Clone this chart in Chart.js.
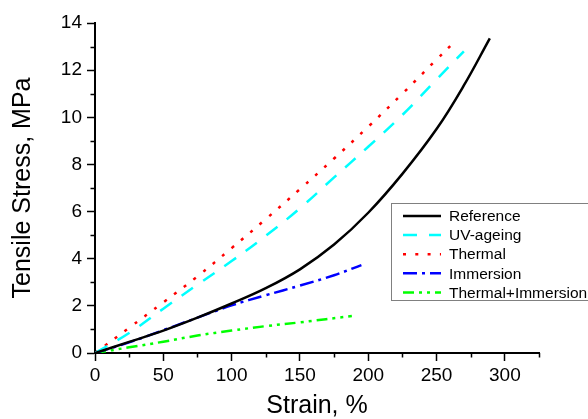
<!DOCTYPE html>
<html>
<head>
<meta charset="utf-8">
<script src="https://cdn.jsdelivr.net/npm/chart.js@4"></script>
<style>
  html, body { margin: 0; padding: 0; background: #fff; }
  #wrap { width: 588px; height: 419px; }
</style>
</head>
<body>
<div id="wrap"><canvas id="stressChart" width="588" height="419"></canvas></div>
<script>
// strain (%) and tensile stress (MPa)
const refStrain = [0, 25, 50, 75, 100, 125, 150, 175, 200, 225, 250, 270, 289];
const refStress = [0, 0.47, 0.95, 1.5, 2.1, 2.75, 3.55, 4.6, 5.95, 7.6, 9.5, 11.35, 13.35];

const uvStrain = [0, 25, 50, 75, 100, 125, 150, 175, 200, 225, 250, 270];
const uvStress = [0, 0.85, 1.88, 2.9, 3.9, 4.97, 6.14, 7.45, 8.75, 10.1, 11.6, 12.8];

const thermalStrain = [0, 25, 50, 75, 100, 125, 150, 175, 200, 225, 250, 260];
const thermalStress = [0, 1.07, 2.15, 3.25, 4.45, 5.68, 6.95, 8.25, 9.6, 11.0, 12.45, 13.02];

const immStrain = [0, 25, 50, 75, 100, 125, 150, 175, 195];
const immStress = [0, 0.45, 0.97, 1.5, 2.02, 2.45, 2.86, 3.3, 3.73];

const thImmStrain = [0, 25, 50, 75, 100, 125, 150, 188];
const thImmStress = [0, 0.24, 0.48, 0.74, 0.95, 1.14, 1.3, 1.57];

const seriesLabels = ['Reference', 'UV-ageing', 'Thermal', 'Immersion', 'Thermal+Immersion'];

const xTickValues = [0, 50, 100, 150, 200, 250, 300];
const yTickValues = [0, 2, 4, 6, 8, 10, 12, 14];

const FONT = '"Liberation Sans", Arial, sans-serif';

function pairs(xs, ys) {
    return xs.map((x, i) => ({ x: x, y: ys[i] }));
}

function makeSet(label, xs, ys, color, dash, width) {
    return {
        label: label,
        data: pairs(xs, ys),
        borderColor: color,
        borderWidth: width,
        borderDash: dash,
        pointRadius: 0,
        fill: false,
        tension: 0.4
    };
}

// minor ticks between the labelled ones
const minorTicks = {
    id: 'minorTicks',
    afterDraw(chart) {
        const ctx = chart.ctx;
        const xs = chart.scales.x, ys = chart.scales.y;
        const area = chart.chartArea;
        ctx.save();
        ctx.strokeStyle = '#000';
        ctx.lineWidth = 1.5;
        ctx.beginPath();
        for (let v = 25; v <= 325; v += 50) {
            const px = Math.round(xs.getPixelForValue(v)) + 0.5;
            ctx.moveTo(px, area.bottom);
            ctx.lineTo(px, area.bottom + 4.5);
        }
        for (let v = 1; v <= 13; v += 2) {
            const py = Math.round(ys.getPixelForValue(v)) + 0.5;
            ctx.moveTo(area.left, py);
            ctx.lineTo(area.left - 4.5, py);
        }
        ctx.stroke();
        ctx.restore();
    }
};

// boxed legend sitting at the right side
const boxLegend = {
    id: 'boxLegend',
    afterDraw(chart) {
        const ctx = chart.ctx;
        const left = 391.5, top = 203.5, right = 600, bottom = 300.5;
        ctx.save();
        ctx.fillStyle = '#fff';
        ctx.fillRect(left, top, right - left, bottom - top);
        ctx.strokeStyle = '#808080';
        ctx.lineWidth = 1;
        ctx.strokeRect(left, top, right - left, bottom - top);
        ctx.font = '15.5px ' + FONT;
        ctx.textBaseline = 'middle';
        chart.data.datasets.forEach((ds, i) => {
            const y = 216 + i * 19.1;
            ctx.beginPath();
            ctx.strokeStyle = ds.borderColor;
            ctx.lineWidth = ds.borderWidth;
            ctx.setLineDash(ds.borderDash || []);
            ctx.moveTo(403, y);
            ctx.lineTo(441, y);
            ctx.stroke();
            ctx.setLineDash([]);
            ctx.fillStyle = '#000';
            ctx.fillText(ds.label, 449, y + 1);
        });
        ctx.restore();
    }
};

document.addEventListener('DOMContentLoaded', function() {
    const ctx = document.getElementById('stressChart').getContext('2d');

    new Chart(ctx, {
        type: 'line',
        data: {
            datasets: [
                makeSet(seriesLabels[0], refStrain, refStress, '#000000', [], 2.5),
                makeSet(seriesLabels[1], uvStrain, uvStress, '#00ffff', [14, 12], 2.5),
                makeSet(seriesLabels[2], thermalStrain, thermalStress, '#ff0000', [3, 9.3], 2.5),
                makeSet(seriesLabels[3], immStrain, immStress, '#0000ff', [14, 5, 3, 5], 2.5),
                makeSet(seriesLabels[4], thImmStrain, thImmStress, '#00ff00', [11, 5, 3, 5, 3, 5], 2.5)
            ]
        },
        options: {
            responsive: false,
            animation: false,
            layout: {
                padding: { left: 0, top: 23, right: 49, bottom: 0 }
            },
            plugins: {
                legend: { display: false },
                tooltip: { enabled: false }
            },
            scales: {
                x: {
                    type: 'linear',
                    min: 0,
                    max: 325,
                    afterBuildTicks: function(scale) {
                        scale.ticks = xTickValues.map(v => ({ value: v }));
                    },
                    afterFit: function(scale) {
                        scale.height = 66;
                    },
                    ticks: {
                        padding: 3,
                        color: '#000',
                        maxRotation: 0,
                        autoSkip: false,
                        font: { family: FONT, size: 19 }
                    },
                    grid: {
                        display: true,
                        drawOnChartArea: false,
                        drawTicks: true,
                        tickLength: 8,
                        tickWidth: 1.5,
                        tickColor: '#000'
                    },
                    border: { display: true, color: '#000', width: 2 },
                    title: {
                        display: true,
                        text: 'Strain, %',
                        color: '#000',
                        font: { family: FONT, size: 25, lineHeight: 1 },
                        padding: { top: 0, bottom: 0 }
                    }
                },
                y: {
                    type: 'linear',
                    min: 0,
                    max: 14,
                    afterBuildTicks: function(scale) {
                        scale.ticks = yTickValues.map(v => ({ value: v }));
                    },
                    afterFit: function(scale) {
                        scale.width = 95;
                    },
                    ticks: {
                        padding: 5,
                        color: '#000',
                        autoSkip: false,
                        font: { family: FONT, size: 19 }
                    },
                    grid: {
                        display: true,
                        drawOnChartArea: false,
                        drawTicks: true,
                        tickLength: 8,
                        tickWidth: 1.5,
                        tickColor: '#000'
                    },
                    border: { display: true, color: '#000', width: 2 },
                    title: {
                        display: true,
                        text: 'Tensile Stress, MPa',
                        color: '#000',
                        font: { family: FONT, size: 25, lineHeight: 1.2 },
                        padding: { top: 8, bottom: 0 }
                    }
                }
            }
        },
        plugins: [minorTicks, boxLegend]
    });
});
</script>
</body>
</html>
